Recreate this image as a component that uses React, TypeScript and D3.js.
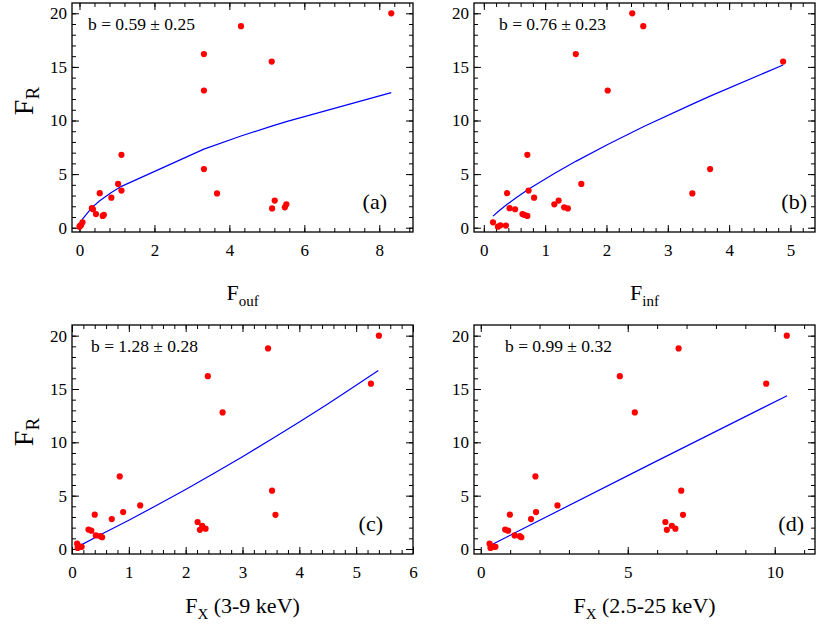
import React, { useEffect, useRef } from "react";
import * as d3 from "d3";

// radio flux, same order of sources in every panel
const FR = [20.0, 18.8, 16.2, 15.5, 12.8, 6.8, 5.47, 4.08, 3.46, 3.22, 3.2, 2.8, 2.53, 2.18, 1.82, 1.72, 1.8, 1.9, 1.27, 1.2, 1.1, 0.5, 0.1, 0.22, 0.2];
const F_OUF = [8.32, 4.31, 3.32, 5.13, 3.32, 1.12, 3.32, 1.03, 1.12, 0.54, 3.67, 0.85, 5.21, 5.52, 0.33, 0.36, 5.14, 5.48, 0.44, 0.65, 0.62, 0.08, 0.0, 0.04, 0.02];
const F_INF = [2.42, 2.6, 1.5, 4.88, 2.02, 0.71, 3.69, 1.59, 0.73, 0.38, 3.4, 0.82, 1.22, 1.15, 0.42, 0.51, 1.37, 1.31, 0.63, 0.66, 0.71, 0.15, 0.23, 0.27, 0.36];
const FX_39 = [5.4, 3.45, 2.39, 5.26, 2.65, 0.84, 3.52, 1.2, 0.9, 0.4, 3.58, 0.7, 2.21, 2.29, 0.29, 0.34, 2.25, 2.35, 0.42, 0.5, 0.53, 0.09, 0.1, 0.15, 0.17];
const FX_2525 = [10.41, 6.73, 4.73, 9.71, 5.24, 1.86, 6.82, 2.61, 1.88, 0.99, 6.88, 1.71, 6.28, 6.5, 0.83, 0.93, 6.33, 6.62, 1.15, 1.33, 1.38, 0.3, 0.33, 0.44, 0.5];

// fitted curves
const FIT_OUF: [number, number][] = [[0.01, 0.24], [0.08, 0.81], [0.33, 1.88], [0.54, 2.51], [0.85, 3.28], [1.12, 3.86], [3.32, 7.33], [4.31, 8.55], [5.13, 9.47], [5.52, 9.89], [8.32, 12.6]];
const FIT_INF: [number, number][] = [[0.15, 1.08], [0.23, 1.49], [0.38, 2.18], [0.51, 2.73], [0.71, 3.51], [0.82, 3.91], [1.15, 5.06], [1.5, 6.19], [2.02, 7.76], [2.6, 9.41], [3.4, 11.53], [3.69, 12.27], [4.88, 15.18]];
const FIT_X39: [number, number][] = [[0.08, 0.15], [0.5, 1.33], [1.0, 2.7], [1.5, 4.12], [2.0, 5.58], [2.5, 7.1], [3.0, 8.65], [3.5, 10.26], [4.0, 11.9], [4.5, 13.6], [5.0, 15.34], [5.39, 16.73]];
const FIT_X2525: [number, number][] = [[0.3, 0.31], [1.3, 1.71], [5.76, 7.93], [10.42, 14.37]];

const SLOPES = ["b = 0.59 \u00b1 0.25", "b = 0.76 \u00b1 0.23", "b = 1.28 \u00b1 0.28", "b = 0.99 \u00b1 0.32"];
const Y_MAJOR = [0, 5, 10, 15, 20];
const Y_MINOR = d3.range(0, 21, 1);

const FONT = "'Liberation Serif', 'Times New Roman', serif";

const panels = [
  { tag: "(a)", xs: F_OUF, fit: FIT_OUF, label: SLOPES[0], title: ["F", "ouf", ""], xDomain: [-0.2, 8.9], yDomain: [-0.4, 20.96], xMajor: [0, 2, 4, 6, 8], xMinor: d3.range(0, 8.85, 0.4), left: 72, top: 3, bLeft: 16, tagRight: 26, titleY: 300, showFR: true },
  { tag: "(b)", xs: F_INF, fit: FIT_INF, label: SLOPES[1], title: ["F", "inf", ""], xDomain: [-0.16, 5.4], yDomain: [-0.4, 20.96], xMajor: [0, 1, 2, 3, 4, 5], xMinor: d3.range(0, 5.35, 0.2), left: 474, top: 3, bLeft: 25, tagRight: 8, titleY: 300, showFR: false },
  { tag: "(c)", xs: FX_39, fit: FIT_X39, label: SLOPES[2], title: ["F", "X", " (3-9 keV)"], xDomain: [0, 6], yDomain: [-0.47, 21.0], xMajor: [0, 1, 2, 3, 4, 5, 6], xMinor: d3.range(0, 6.05, 0.2), left: 72, top: 325, bLeft: 19, tagRight: 30, titleY: 613, showFR: true },
  { tag: "(d)", xs: FX_2525, fit: FIT_X2525, label: SLOPES[3], title: ["F", "X", " (2.5-25 keV)"], xDomain: [-0.23, 11.37], yDomain: [-0.47, 21.0], xMajor: [0, 5, 10], xMinor: d3.range(0, 11.5, 1), left: 474, top: 325, bLeft: 31, tagRight: 11, titleY: 613, showFR: false },
];

const BOX_W = 341;
const BOX_H = 229;

const App: React.FC = () => {
  const svgRef = useRef<SVGSVGElement | null>(null);

  useEffect(() => {
    const svg = d3.select(svgRef.current);
    svg.selectAll("*").remove();

    panels.forEach((p) => {
      const x0 = p.left;
      const x1 = p.left + BOX_W;
      const y0 = p.top;
      const y1 = p.top + BOX_H;

      const x = d3.scaleLinear().domain(p.xDomain).range([x0, x1]);
      const y = d3.scaleLinear().domain(p.yDomain).range([y1, y0]);

      const g = svg.append("g");

      const styleAxis = (sel: d3.Selection<SVGGElement, unknown, null, undefined>) => {
        sel.select(".domain").remove();
        sel.selectAll("line").attr("stroke", "#000").attr("stroke-width", 1);
        sel.attr("font-family", FONT).attr("font-size", 17);
        sel.selectAll("text").attr("fill", "#000");
      };

      // major + minor ticks on all four sides, pointing inward
      g.append("g").attr("transform", `translate(0,${y1})`)
        .call(d3.axisBottom(x).tickValues(p.xMajor).tickSize(-7).tickPadding(12).tickFormat(d3.format("d")))
        .call(styleAxis);
      g.append("g").attr("transform", `translate(0,${y1})`)
        .call(d3.axisBottom(x).tickValues(p.xMinor).tickSize(-4).tickFormat(() => ""))
        .call(styleAxis);
      g.append("g").attr("transform", `translate(0,${y0})`)
        .call(d3.axisTop(x).tickValues(p.xMajor).tickSize(-7).tickFormat(() => ""))
        .call(styleAxis);
      g.append("g").attr("transform", `translate(0,${y0})`)
        .call(d3.axisTop(x).tickValues(p.xMinor).tickSize(-4).tickFormat(() => ""))
        .call(styleAxis);

      g.append("g").attr("transform", `translate(${x0},0)`)
        .call(d3.axisLeft(y).tickValues(Y_MAJOR).tickSize(-7).tickPadding(5).tickFormat(d3.format("d")))
        .call(styleAxis);
      g.append("g").attr("transform", `translate(${x0},0)`)
        .call(d3.axisLeft(y).tickValues(Y_MINOR).tickSize(-4).tickFormat(() => ""))
        .call(styleAxis);
      g.append("g").attr("transform", `translate(${x1},0)`)
        .call(d3.axisRight(y).tickValues(Y_MAJOR).tickSize(-7).tickFormat(() => ""))
        .call(styleAxis);
      g.append("g").attr("transform", `translate(${x1},0)`)
        .call(d3.axisRight(y).tickValues(Y_MINOR).tickSize(-4).tickFormat(() => ""))
        .call(styleAxis);

      // frame
      g.append("rect")
        .attr("x", x0).attr("y", y0)
        .attr("width", BOX_W).attr("height", BOX_H)
        .attr("fill", "none").attr("stroke", "#000").attr("stroke-width", 1.3);

      // fit
      const line = d3.line<[number, number]>().x((d) => x(d[0])).y((d) => y(d[1]));
      g.append("path")
        .attr("d", line(p.fit) || "")
        .attr("fill", "none")
        .attr("stroke", "#0000ff")
        .attr("stroke-width", 1.2);

      // points
      g.append("g")
        .selectAll("circle")
        .data(p.xs.map((v, i) => [v, FR[i]] as [number, number]))
        .join("circle")
        .attr("cx", (d) => x(d[0]))
        .attr("cy", (d) => y(d[1]))
        .attr("r", 3.1)
        .attr("fill", "#ff0000");

      // slope text
      g.append("text")
        .attr("x", x0 + p.bLeft)
        .attr("y", y0 + 27)
        .attr("font-family", FONT)
        .attr("font-size", 17.5)
        .text(p.label);

      // panel tag
      g.append("text")
        .attr("x", x1 - p.tagRight)
        .attr("y", y0 + 206)
        .attr("text-anchor", "end")
        .attr("font-family", FONT)
        .attr("font-size", 22)
        .text(p.tag);

      // x title
      const t = g.append("text")
        .attr("x", (x0 + x1) / 2)
        .attr("y", p.titleY)
        .attr("text-anchor", "middle")
        .attr("font-family", FONT)
        .attr("font-size", 22);
      t.append("tspan").text(p.title[0]);
      t.append("tspan").attr("font-size", 15).attr("dy", 6).text(p.title[1]);
      if (p.title[2]) t.append("tspan").attr("dy", -6).text(p.title[2]);

      // y title
      if (p.showFR) {
        const cy = p.top === 3 ? 101 : 432;
        const yt = g.append("text")
          .attr("transform", `translate(33,${cy}) rotate(-90)`)
          .attr("text-anchor", "middle")
          .attr("font-family", FONT)
          .attr("font-size", 28);
        yt.append("tspan").text("F");
        yt.append("tspan").attr("font-size", 19).attr("dy", 6).text("R");
      }
    });
  }, []);

  return (
    <svg
      ref={svgRef}
      width={830}
      height={625}
      style={{ position: "absolute", left: 0, top: 0, background: "#fff" }}
    ></svg>
  );
};

export default App;
